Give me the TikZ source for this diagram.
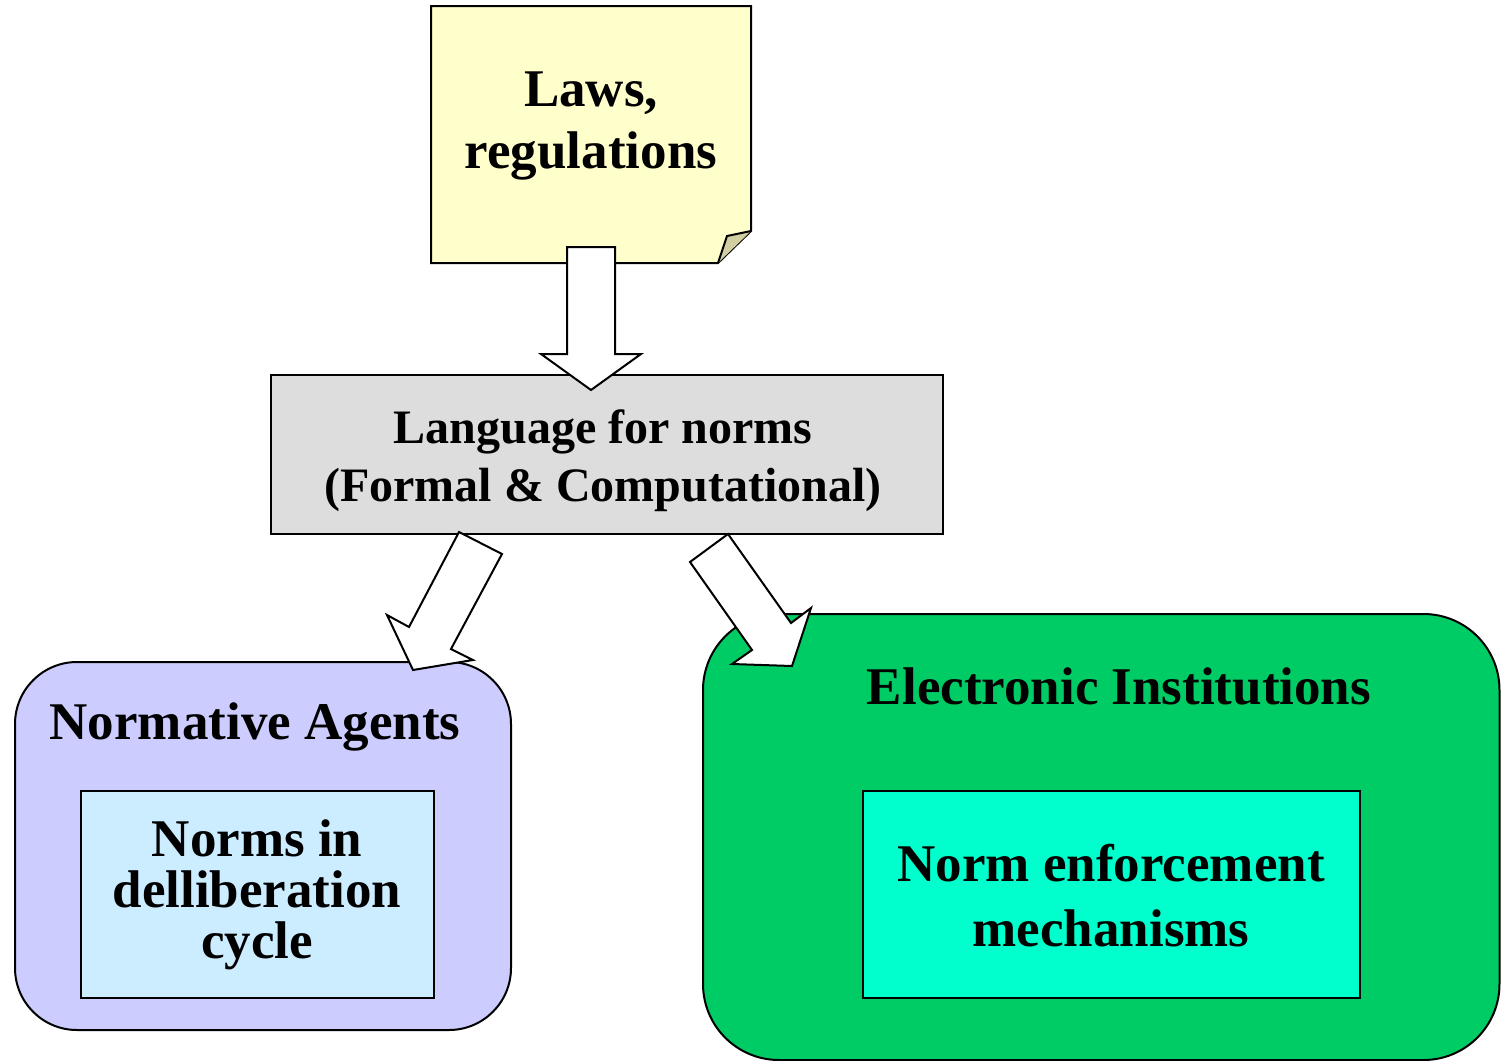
\documentclass[tikz,border=0pt]{standalone}
\usepackage{fontspec}
\setmainfont{Liberation Serif}
\definecolor{noteyellow}{HTML}{FFFFCC}
\definecolor{notefold}{HTML}{D2CFA3}
\definecolor{langgray}{HTML}{DDDDDD}
\definecolor{agentpurple}{HTML}{CCCCFF}
\definecolor{agentblue}{HTML}{CCECFF}
\definecolor{instgreen}{HTML}{00CC66}
\definecolor{instcyan}{HTML}{00FFCC}
\tikzset{
  outline/.style={draw=black, line width=1pt},
  bigtext/.style={font=\bfseries\fontsize{26.5}{31}\selectfont, align=center, inner sep=0pt},
  midtext/.style={font=\bfseries\fontsize{24}{29}\selectfont, align=center, inner sep=0pt},
  blockarrow/.style={outline, fill=white, line join=miter},
}
\begin{document}
\begin{tikzpicture}[x=0.5pt,y=-0.5pt]
\useasboundingbox (0,0) rectangle (1501,1061);
% containers
\draw[outline, fill=agentpurple, rounded corners=31pt] (15,662) rectangle (511,1030);
\draw[outline, fill=instgreen, rounded corners=38pt] (703,614) rectangle (1499.5,1060);
% inner boxes
\node[outline, fill=agentblue, minimum width=176.5pt, minimum height=103.5pt, inner sep=0pt] (delib) at (257.5,894.5) {};
\node[outline, fill=instcyan, minimum width=248.5pt, minimum height=103.5pt, inner sep=0pt] (enforce) at (1111.5,894.5) {};
% gray language box
\node[outline, fill=langgray, minimum width=336pt, minimum height=79.5pt, inner sep=0pt] (lang) at (607,454.5) {};
% laws note with folded corner
\draw[outline, fill=noteyellow, line join=miter] (431,6) -- (751,6) -- (751,231) -- (718,263) -- (431,263) -- cycle;
\draw[outline, fill=notefold, line join=miter] (751,231) -- (727,236) -- (718,263);
\coordinate (lawsc) at (591,126);
% block arrows
\draw[blockarrow] (567,247) -- (615,247) -- (615,354) -- (641,354) -- (591,390) -- (541,354) -- (567,354) -- cycle;
\draw[blockarrow] (459,532) -- (502,554) -- (451,649) -- (473,660) -- (413,670) -- (387,615) -- (409,627) -- cycle;
\draw[blockarrow] (728,534) -- (690,562) -- (752,650) -- (732,664) -- (792,666) -- (811,608) -- (791,623) -- cycle;
% texts
\node[bigtext] (laws) at (lawsc) {Laws,\\regulations};
\node[midtext] (langtext) at (603,461) {Language for norms\\(Formal \& Computational)};
\node[bigtext] (agents) at (255,727) {Normative Agents};
\node[bigtext, font=\bfseries\fontsize{26.5}{25.5}\selectfont] (delibtext) at (257,895) {Norms in\\delliberation\\cycle};
\node[bigtext] (inst) at (1119,686) {Electronic Institutions};
\node[bigtext, font=\bfseries\fontsize{26.5}{32.5}\selectfont] (enforcetext) at (1111,896) {Norm enforcement\\mechanisms};
\end{tikzpicture}
\end{document}
